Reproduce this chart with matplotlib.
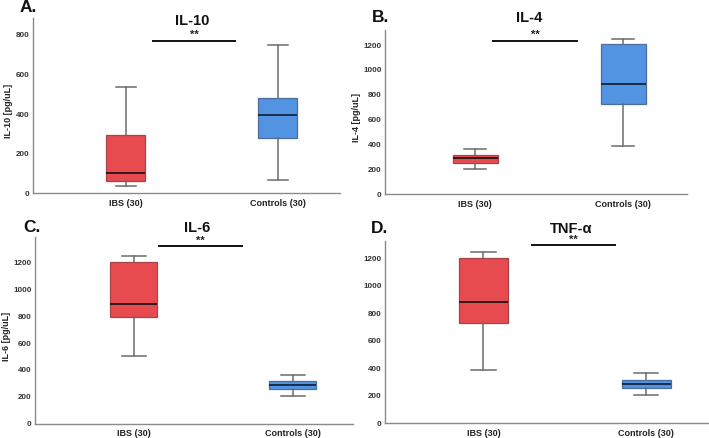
import matplotlib
matplotlib.use("Agg")
import matplotlib.pyplot as plt

plt.rcParams['font.family'] = ['Liberation Sans', 'DejaVu Sans']

groups = ["IBS (30)", "Controls (30)"]

# [whislo, q1, median, q3, whishi]
il10_ibs = [35, 64, 101, 296, 538]
il10_ctrl = [67, 278, 397, 480, 749]
il4_ibs = [203, 254, 292, 313, 364]
il4_ctrl = [388, 728, 887, 1206, 1248]
il6_ibs = [504, 792, 888, 1203, 1248]
il6_ctrl = [208, 258, 290, 315, 365]
tnf_ibs = [389, 728, 884, 1203, 1242]
tnf_ctrl = [207, 256, 289, 314, 362]

panel_letters = ["A.", "B.", "C.", "D."]
titles = ["IL-10", "IL-4", "IL-6", "TNF-\u03b1"]
ylabels = ["IL-10 [pg/uL]", "IL-4 [pg/uL]", "IL-6 [pg/uL]", ""]
sig_text = "**"

RED = "#E84B4F"
RED_EDGE = "#A84448"
BLUE = "#5293E2"
BLUE_EDGE = "#4A6E9E"
GRAY = "#6b6b6b"

fig = plt.figure(figsize=(7.09, 4.38), dpi=100)
W, H = 709, 438

def ax_at(l, r, t, b):
    return fig.add_axes([l / W, 1 - b / H, (r - l) / W, (b - t) / H])

panels = [
    dict(rect=(33, 340, 18, 193.3), data=(il10_ibs, il10_ctrl), ylim=885, yticks=range(0, 801, 200),
         xlim=(-0.61, 1.41), width=0.26, sig=(0.18, 0.72, 769, 800), ylab_x=-0.066,
         letter=(20, 8), title=(192, 21)),
    dict(rect=(385, 687, 30, 194.3), data=(il4_ibs, il4_ctrl), ylim=1321, yticks=range(0, 1201, 200),
         xlim=(-0.61, 1.43), width=0.30, sig=(0.12, 0.69, 1232, 1280), ylab_x=-0.08,
         letter=(372, 17), title=(529, 18)),
    dict(rect=(35, 353, 237.3, 423.7), data=(il6_ibs, il6_ctrl), ylim=1387, yticks=range(0, 1201, 200),
         xlim=(-0.62, 1.38), width=0.30, sig=(0.16, 0.68, 1322, 1359), ylab_x=-0.075,
         letter=(23, 228), title=(197, 228)),
    dict(rect=(385, 708, 240.7, 423.3), data=(tnf_ibs, tnf_ctrl), ylim=1327, yticks=range(0, 1201, 200),
         xlim=(-0.605, 1.38), width=0.30, sig=(0.30, 0.81, 1293, 1332), ylab_x=-0.08,
         letter=(371, 228.5), title=(571, 229)),
]

for i, p in enumerate(panels):
    l, r, t, b = p["rect"]
    ax = ax_at(l, r, t, b)
    stats = []
    for lab, s in zip(groups, p["data"]):
        stats.append(dict(label=lab, whislo=s[0], q1=s[1], med=s[2], q3=s[3], whishi=s[4], fliers=[]))
    bp = ax.bxp(stats, positions=[0, 1], widths=p["width"], patch_artist=True,
                showfliers=False,
                whiskerprops=dict(color=GRAY, linewidth=1.1),
                capprops=dict(color=GRAY, linewidth=1.1),
                medianprops=dict(color="#111111", linewidth=1.2),
                boxprops=dict(linewidth=0.9))
    for patch, fc, ec in zip(bp["boxes"], [RED, BLUE], [RED_EDGE, BLUE_EDGE]):
        patch.set_facecolor(fc)
        patch.set_edgecolor(ec)
    bp["medians"][1].set_color("#0d1b33")
    ax.set_xlim(*p["xlim"])
    ax.set_ylim(0, p["ylim"])
    ax.set_yticks(list(p["yticks"]))
    ax.set_xticks([0, 1])
    ax.set_xticklabels(groups, fontsize=6.5, fontweight="bold", color="#222222")
    for lbl in ax.get_yticklabels():
        lbl.set_fontsize(5.8)
        lbl.set_fontweight("bold")
        lbl.set_color("#333333")
    ax.tick_params(axis="both", length=0)
    ax.tick_params(axis="y", pad=2.5)
    ax.tick_params(axis="x", pad=4)
    for side in ("top", "right"):
        ax.spines[side].set_visible(False)
    for side in ("left", "bottom"):
        ax.spines[side].set_color("#8a8a8a")
        ax.spines[side].set_linewidth(1.0)
    if ylabels[i]:
        ax.set_ylabel(ylabels[i], fontsize=6.5, fontweight="bold", color="#222222")
        ax.yaxis.set_label_coords(p["ylab_x"], 0.47)
    x0, x1, yl, ys = p["sig"]
    ax.plot([x0, x1], [yl, yl], color="#111111", linewidth=1.4, clip_on=False)
    ax.text((x0 + x1) / 2, ys, sig_text, ha="center", va="center", fontsize=8,
            fontweight="bold", color="#222222", clip_on=False)
    lx, ly = p["letter"]
    fig.text(lx / W, 1 - ly / H, panel_letters[i], ha="left", va="center",
             fontsize=12.5, fontweight="bold", color="#111111")
    tx, ty = p["title"]
    fig.text(tx / W, 1 - ty / H, titles[i], ha="center", va="center",
             fontsize=10.5, fontweight="bold", color="#111111")

fig.savefig("out.png", dpi=100)
